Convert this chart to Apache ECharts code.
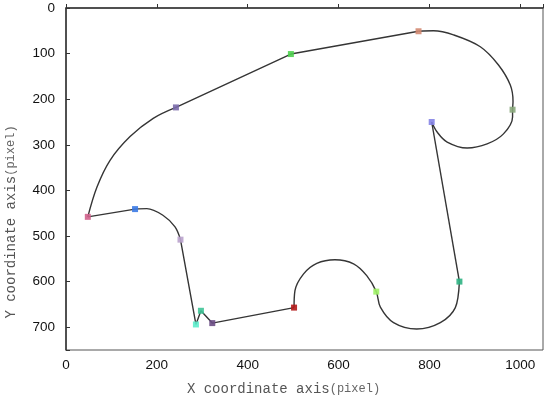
<!DOCTYPE html>
<html lang="en">

<head>
    <meta charset="UTF-8">
    <title>path</title>
    <script src="https://cdn.jsdelivr.net/npm/echarts@6/dist/echarts.min.js"></script>
    <style>
        * {
            margin: 0;
            padding: 0;
        }

        #main {
            width: 550px;
            height: 402px;
            background: #fff;
        }
    </style>
</head>

<body>
    <div id="main"></div>
    <script>
        // key points of the path (pixel coords) and their marker colours
        var keyPoints = [
            [48, 458], [152, 441], [252, 508], [286, 694], [297, 664], [322, 691],
            [502, 657], [683, 622], [866, 600], [805, 250], [983, 223], [776, 51],
            [495, 101], [242, 218]
        ];
        var keyColors = [
            '#d0628c', '#3b7ae4', '#b9a2cc', '#5ceccb', '#3fc497', '#6b4c85',
            '#b31a1a', '#9ef266', '#2fb283', '#8584e6', '#8aa87c', '#d38a72',
            '#4fd24f', '#7a6aaa'
        ];

        // curved parts
        var arcLeft = [[242, 218], [192, 242], [141, 282], [97, 334], [68, 393], [48, 458]];
        var arcBlue = [[152, 441], [178, 440], [214, 455], [240, 480], [252, 508]];
        var arcWave = [[502, 657], [504, 620], [523, 583], [552, 560], [592, 552], [633, 561],
            [662, 587], [683, 622], [692, 656], [721, 690], [772, 704], [824, 690],
            [857, 657], [866, 600]];
        var arcHook = [[776, 51], [809, 50], [853, 59], [912, 85], [952, 125], [978, 169],
            [984, 205], [983, 223], [983, 239], [963, 276], [927, 298], [883, 307],
            [839, 294], [817, 272], [805, 250]];

        // straight parts
        var lineA = [[48, 458], [152, 441]];
        var lineB = [[252, 508], [286, 694], [297, 664], [322, 691], [502, 657]];
        var lineC = [[866, 600], [805, 250]];
        var lineD = [[776, 51], [495, 101], [242, 218]];

        var xTicks = [0, 200, 400, 600, 800, 1000];
        var yTicks = [0, 100, 200, 300, 400, 500, 600, 700];

        var chartDom = document.getElementById('main');
        var myChart = echarts.init(chartDom);

        var pathStyle = { color: '#353535', width: 1.4 };
        var series = [];
        [arcLeft, arcBlue, arcWave, arcHook].forEach(function (d) {
            series.push({
                type: 'line', data: d, smooth: 0.35, symbol: 'none',
                lineStyle: pathStyle, z: 2
            });
        });
        [lineA, lineB, lineC, lineD].forEach(function (d) {
            series.push({
                type: 'line', data: d, smooth: false, symbol: 'none',
                lineStyle: pathStyle, z: 2
            });
        });
        series.push({
            type: 'scatter',
            symbol: 'rect',
            symbolSize: 6,
            z: 3,
            data: keyPoints.map(function (p, i) {
                return { value: p, itemStyle: { color: keyColors[i], opacity: 0.9 } };
            })
        });

        var labelFont = {
            color: '#111', fontSize: 13.5, fontFamily: 'Liberation Sans',
            formatter: function (v) { return String(v); }
        };
        var nameRich = {
            a: { fontFamily: 'Liberation Mono', fontSize: 14, color: '#555' },
            b: { fontFamily: 'Liberation Mono', fontSize: 12, color: '#666' }
        };

        option = {
            backgroundColor: '#fff',
            animation: false,
            grid: {
                left: 66, right: 7, top: 8, bottom: 52,
                outerBoundsMode: 'none',
                show: true, borderColor: '#555', borderWidth: 1
            },
            xAxis: {
                type: 'value',
                min: 0, max: 1050, interval: 200,
                name: '{a|X coordinate axis}{b|(pixel)}',
                nameLocation: 'middle',
                nameGap: 32,
                nameTextStyle: { rich: nameRich, padding: [0, 42, 0, 0] },
                splitLine: { show: false },
                axisLine: { lineStyle: { color: '#333', width: 1.5 } },
                axisTick: { inside: true, length: 4, lineStyle: { color: '#333' } },
                axisLabel: Object.assign({
                    margin: 8,
                    customValues: xTicks
                }, labelFont)
            },
            yAxis: {
                type: 'value',
                inverse: true,
                min: 0, max: 750, interval: 100,
                name: '{a|Y coordinate axis}{b|(pixel)}',
                nameLocation: 'middle',
                nameGap: 48,
                nameTextStyle: { rich: nameRich, padding: [0, 86, 0, 0] },
                splitLine: { show: false },
                axisLine: { lineStyle: { color: '#333', width: 1.5 } },
                axisTick: { inside: true, length: 4, lineStyle: { color: '#333' } },
                axisLabel: Object.assign({
                    margin: 11,
                    customValues: yTicks
                }, labelFont)
            },
            series: series
        };
        myChart.setOption(option);
    </script>
</body>
</html>
